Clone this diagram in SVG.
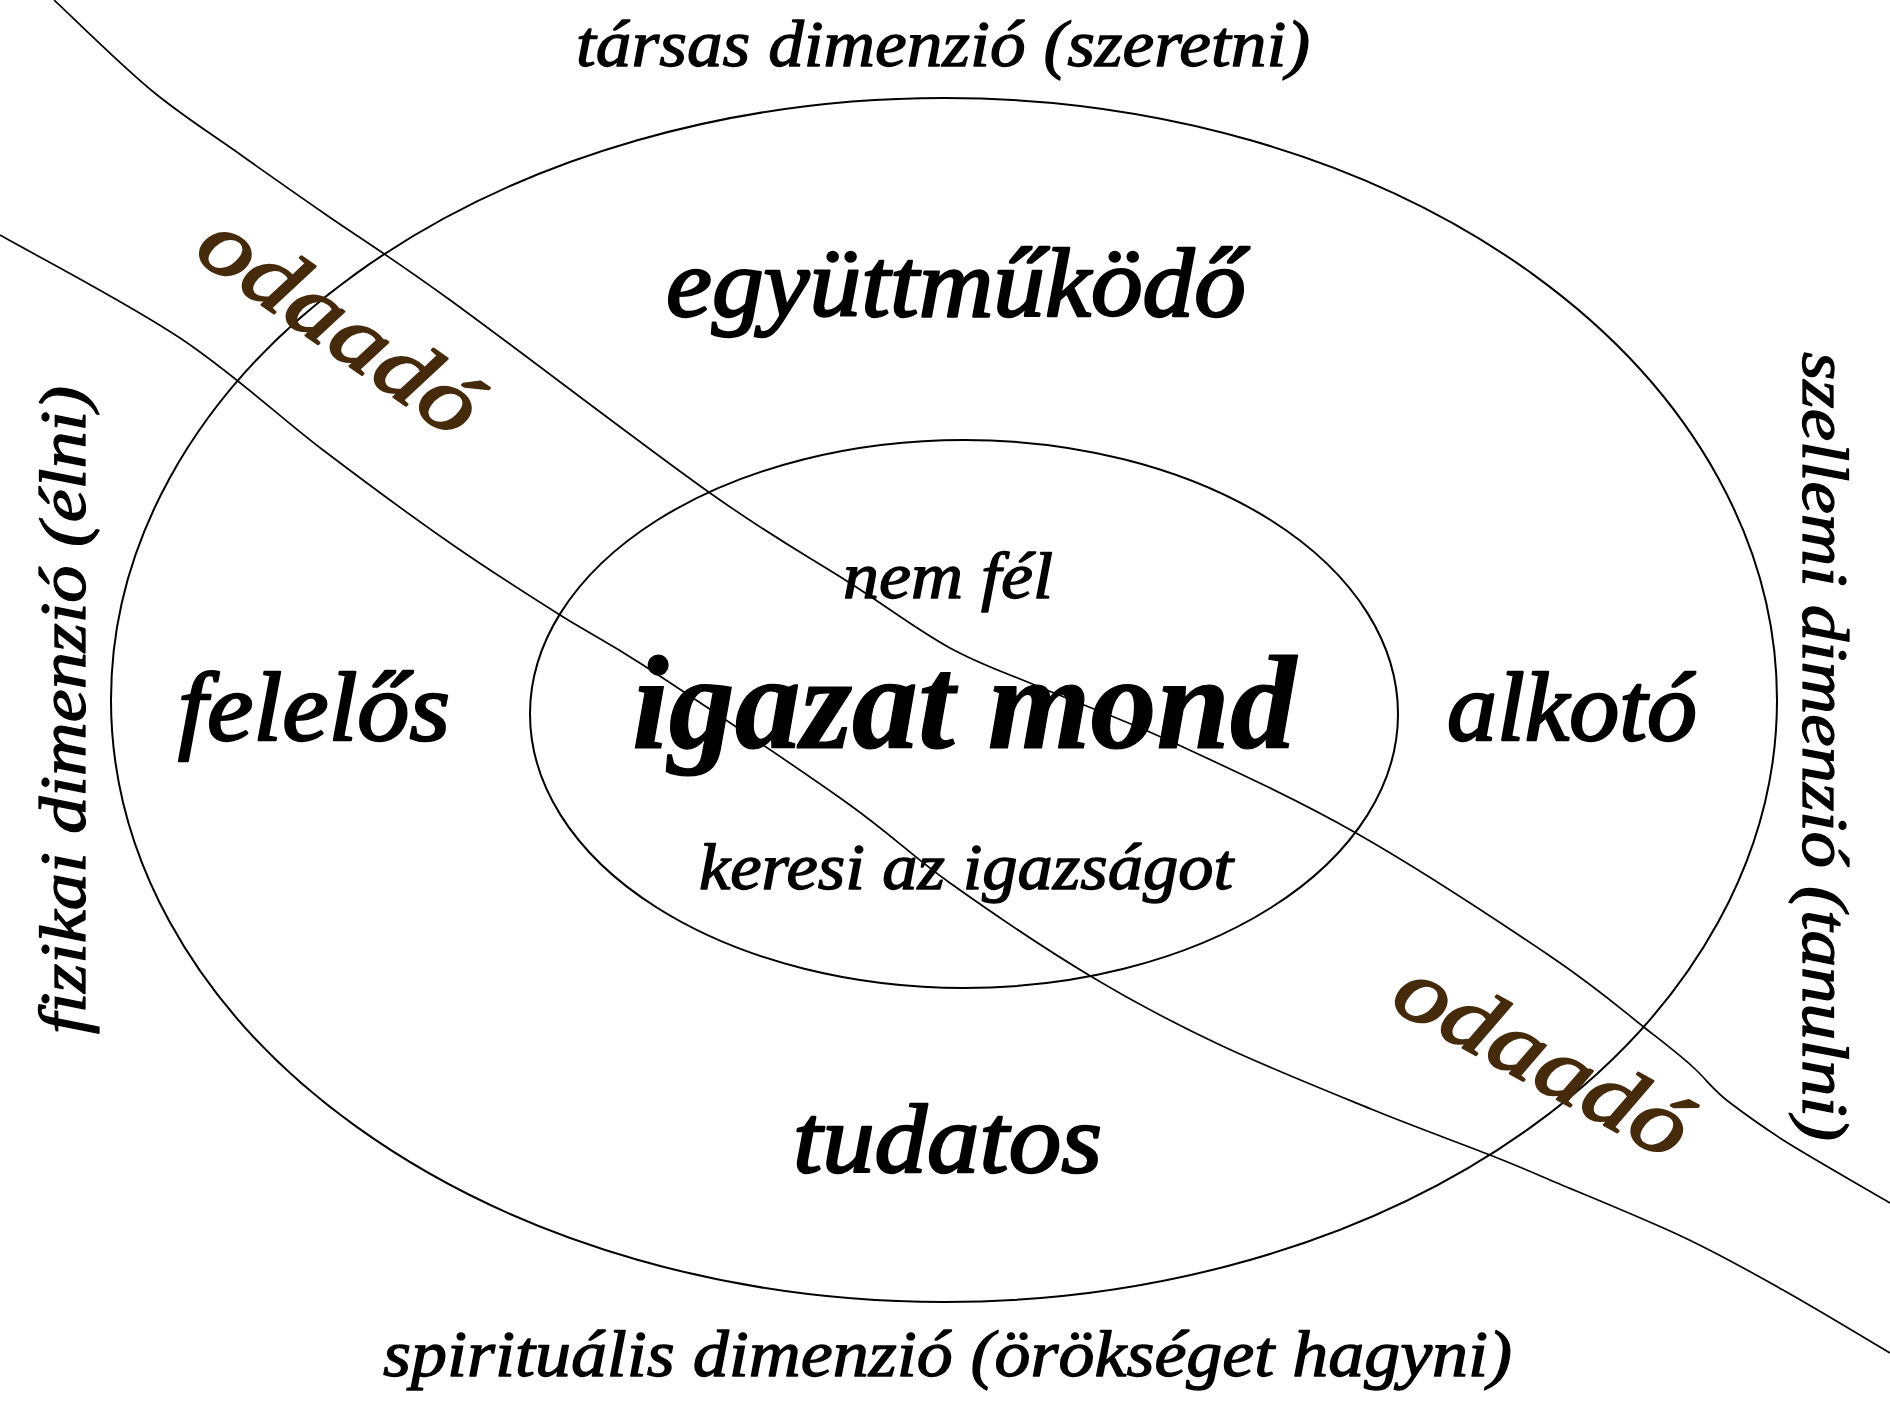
<svg xmlns="http://www.w3.org/2000/svg" width="1890" height="1417" viewBox="0 0 1890 1417">
<style>
  .ring { fill: none; stroke: #000; stroke-width: 2; }
  .band { fill: none; stroke: #000; stroke-width: 1.7; }
  text { font-family: "Liberation Serif", "DejaVu Serif", serif; font-style: italic; fill: #000; stroke: #000; text-anchor: middle; stroke-linejoin: round; }
  .dim { font-size: 66px; stroke-width: 1.3; }
  .big { font-size: 98px; stroke-width: 2.4; }
  .mid { font-size: 66px; stroke-width: 1.4; }
  .core { font-size: 134px; font-weight: bold; stroke-width: 1.2; }
  .oda { font-size: 90px; fill: #452a0c; stroke: #452a0c; stroke-width: 2.2; }
</style>
<rect width="1890" height="1417" fill="#fff"/>
<g id="connectors">
  <path id="band-upper" class="band" d="M54,0 C70.2,15 119.8,64.2 151,90 C182.2,115.8 212,134.3 241,155 C270,175.7 290.2,189.8 325,214 C359.8,238.2 385.8,253.5 450,300 C514.2,346.5 643.3,445.8 710,493 C776.7,540.2 810,557.2 850,583 C890,608.8 918,630.5 950,648 C982,665.5 1005,672.3 1042,688 C1079,703.7 1119.7,717.8 1172,742 C1224.3,766.2 1293,797.3 1356,833 C1419,868.7 1502.2,923.7 1550,956 C1597.8,988.3 1622,1010 1645,1028 C1668,1046 1680,1055 1694,1068 C1708,1081 1712,1089 1729,1102 C1746,1115 1757,1123 1783,1140 C1810.2,1157.2 1872.2,1192.5 1890,1203"/>
  <path id="band-lower" class="band" d="M0,235 C30,252.2 126.2,302.2 180,338 C233.8,373.8 278,415.8 323,450 C368,484.2 410.5,515.5 450,543 C489.5,570.5 527.8,594.7 560,615 C592.2,635.3 600,637 643,665 C690.2,695.8 791.8,763.7 843,800 C894.2,836.3 908.5,853.5 950,883 C991.5,912.5 1047.3,950.2 1092,977 C1136.7,1003.8 1171.5,1022 1218,1044 C1264.5,1066 1325.7,1090.5 1371,1109 C1416.3,1127.5 1460.2,1143.2 1490,1155 C1519.8,1166.8 1520,1167 1550,1180 C1582.2,1193.7 1644.2,1218.7 1683,1237 C1721.8,1255.3 1748.5,1270.7 1783,1290 C1817.5,1309.3 1872.2,1342.5 1890,1353"/>
</g>
<g id="outer-ring">
  <ellipse class="ring" cx="944" cy="700" rx="833" ry="602"/>
  <text class="big" x="956" y="316" textLength="580" lengthAdjust="spacingAndGlyphs">együttműködő</text>
  <text class="big" x="314" y="740" textLength="272" lengthAdjust="spacingAndGlyphs">felelős</text>
  <text class="big" x="1572" y="740" textLength="250" lengthAdjust="spacingAndGlyphs">alkotó</text>
  <text class="big" x="947.5" y="1172" textLength="309" lengthAdjust="spacingAndGlyphs">tudatos</text>
</g>
<g id="inner-ring">
  <ellipse class="ring" cx="964" cy="714" rx="434" ry="274"/>
  <text class="mid" x="948" y="598" textLength="210" lengthAdjust="spacingAndGlyphs">nem fél</text>
  <text class="core" x="964" y="748" textLength="664" lengthAdjust="spacingAndGlyphs">igazat mond</text>
  <text class="mid" x="966" y="889" textLength="534" lengthAdjust="spacingAndGlyphs">keresi az igazságot</text>
</g>
<g id="dimension-top">
  <text class="dim" x="943" y="66" textLength="734" lengthAdjust="spacingAndGlyphs">társas dimenzió (szeretni)</text>
</g>
<g id="dimension-bottom">
  <text class="dim" x="947.5" y="1376" textLength="1129" lengthAdjust="spacingAndGlyphs">spirituális dimenzió (örökséget hagyni)</text>
</g>
<g id="dimension-left">
  <text class="dim" transform="translate(85,710) rotate(-90)" x="0" y="0" textLength="648" lengthAdjust="spacingAndGlyphs">fizikai dimenzió (élni)</text>
</g>
<g id="dimension-right">
  <text class="dim" transform="translate(1803,746.5) rotate(90)" x="0" y="0" textLength="789" lengthAdjust="spacingAndGlyphs">szellemi dimenzió (tanulni)</text>
</g>
<g id="odaado-upper">
  <text class="oda" transform="translate(323.5,348) rotate(35)" x="0" y="0" textLength="322" lengthAdjust="spacingAndGlyphs">odaadó</text>
</g>
<g id="odaado-lower">
  <text class="oda" transform="translate(1529,1084) rotate(28.7)" x="0" y="0" textLength="322" lengthAdjust="spacingAndGlyphs">odaadó</text>
</g>
</svg>
